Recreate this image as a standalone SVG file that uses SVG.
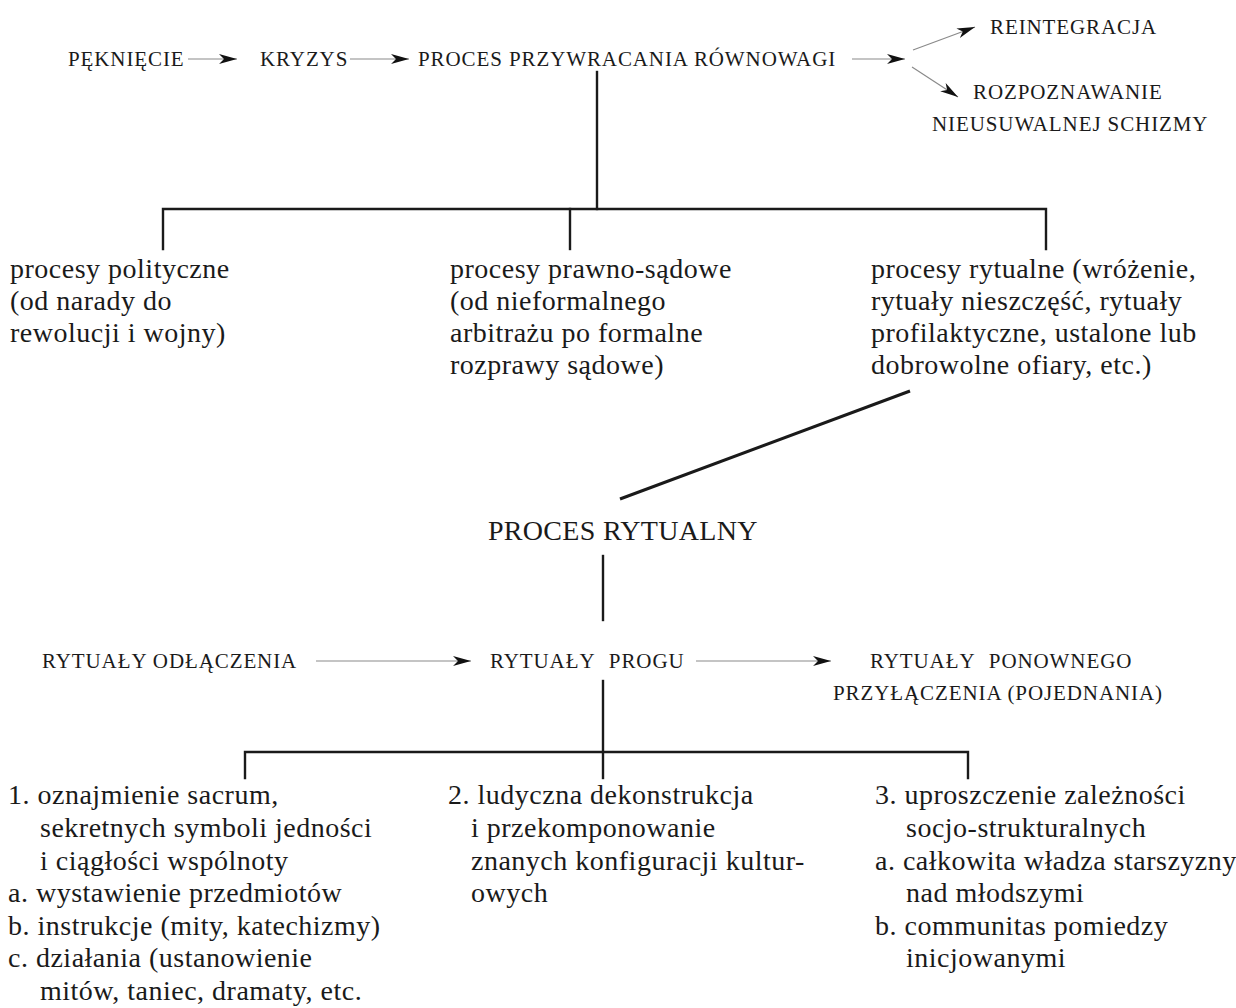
<svg xmlns="http://www.w3.org/2000/svg" width="1236" height="1008" viewBox="0 0 1236 1008">
<defs>
<style>
.cap{font-family:"Liberation Serif","Times New Roman",serif;font-size:21px;letter-spacing:0.9px;fill:#1a1a1a}
.big{font-family:"Liberation Serif","Times New Roman",serif;font-size:28px;letter-spacing:0.3px;fill:#1a1a1a}
.txt{font-family:"Liberation Serif","Times New Roman",serif;font-size:28px;letter-spacing:0.5px;fill:#1a1a1a}
.arr{stroke:#8a8a8a;stroke-width:1.2;fill:none;marker-end:url(#head)}
.tree{stroke:#1a1a1a;stroke-width:2.4;fill:none;stroke-linecap:square}
</style>
<marker id="head" markerUnits="userSpaceOnUse" markerWidth="19" markerHeight="11" refX="18" refY="5.5" orient="auto" viewBox="0 0 19 11">
<path d="M0,0.5 L18,5.5 L0,10.5 L5,5.5 Z" fill="#111"/>
</marker>
</defs>
<rect width="1236" height="1008" fill="#fff"/>

<g id="connectors">
<path class="arr" d="M188,59 L237,59"/>
<path class="arr" d="M350,59 L409,59"/>
<path class="arr" d="M852,59 L905,59"/>
<path class="arr" d="M913,50 L975,27"/>
<path class="arr" d="M912,67 L958,97"/>
<path class="tree" d="M597,72 L597,209"/>
<path class="tree" d="M163,249 L163,209 L1046,209 L1046,249"/>
<path class="tree" d="M570,209 L570,249"/>
<path d="M910,391 L620,499" stroke="#1a1a1a" stroke-width="3" fill="none"/>
<path class="tree" d="M603,556 L603,620"/>
<path class="arr" d="M316,661 L471,661"/>
<path class="arr" d="M696,661 L831,661"/>
<path class="tree" d="M603,681 L603,778"/>
<path class="tree" d="M245,778 L245,752 L968,752 L968,778"/>
</g>

<g id="peknięcie"><text class="cap" x="68" y="66">PĘKNIĘCIE</text></g>
<g id="kryzys"><text class="cap" x="260" y="66">KRYZYS</text></g>
<g id="proces-przywracania"><text class="cap" x="418" y="66">PROCES PRZYWRACANIA RÓWNOWAGI</text></g>
<g id="reintegracja"><text class="cap" x="990" y="34">REINTEGRACJA</text></g>
<g id="rozpoznawanie">
<text class="cap" x="973" y="99">ROZPOZNAWANIE</text>
<text class="cap" x="932" y="131">NIEUSUWALNEJ SCHIZMY</text>
</g>

<g id="procesy-polityczne">
<text class="txt" x="10" y="278">procesy polityczne</text>
<text class="txt" x="10" y="310">(od narady do</text>
<text class="txt" x="10" y="342">rewolucji i wojny)</text>
</g>
<g id="procesy-prawno-sadowe">
<text class="txt" x="450" y="278">procesy prawno-sądowe</text>
<text class="txt" x="450" y="310">(od nieformalnego</text>
<text class="txt" x="450" y="342">arbitrażu po formalne</text>
<text class="txt" x="450" y="374">rozprawy sądowe)</text>
</g>
<g id="procesy-rytualne">
<text class="txt" x="871" y="278">procesy rytualne (wróżenie,</text>
<text class="txt" x="871" y="310">rytuały nieszczęść, rytuały</text>
<text class="txt" x="871" y="342">profilaktyczne, ustalone lub</text>
<text class="txt" x="871" y="374">dobrowolne ofiary, etc.)</text>
</g>

<g id="proces-rytualny"><text class="big" x="488" y="540">PROCES RYTUALNY</text></g>

<g id="rytualy-odlaczenia"><text class="cap" x="42" y="668">RYTUAŁY ODŁĄCZENIA</text></g>
<g id="rytualy-progu"><text class="cap" x="490" y="668">RYTUAŁY <tspan dx="8">PROGU</tspan></text></g>
<g id="rytualy-ponownego">
<text class="cap" x="870" y="668">RYTUAŁY <tspan dx="8">PONOWNEGO</tspan></text>
<text class="cap" x="833" y="700">PRZYŁĄCZENIA (POJEDNANIA)</text>
</g>

<g id="punkt-1">
<text class="txt" x="8" y="804">1. oznajmienie sacrum,</text>
<text class="txt" x="40" y="837">sekretnych symboli jedności</text>
<text class="txt" x="40" y="870">i ciągłości wspólnoty</text>
<text class="txt" x="8" y="902">a. wystawienie przedmiotów</text>
<text class="txt" x="8" y="935">b. instrukcje (mity, katechizmy)</text>
<text class="txt" x="8" y="967">c. działania (ustanowienie</text>
<text class="txt" x="40" y="1000">mitów, taniec, dramaty, etc.</text>
</g>
<g id="punkt-2">
<text class="txt" x="448" y="804">2. ludyczna dekonstrukcja</text>
<text class="txt" x="471" y="837">i przekomponowanie</text>
<text class="txt" x="471" y="870">znanych konfiguracji kultur-</text>
<text class="txt" x="471" y="902">owych</text>
</g>
<g id="punkt-3">
<text class="txt" x="875" y="804">3. uproszczenie zależności</text>
<text class="txt" x="906" y="837">socjo-strukturalnych</text>
<text class="txt" x="875" y="870">a. całkowita władza starszyzny</text>
<text class="txt" x="906" y="902">nad młodszymi</text>
<text class="txt" x="875" y="935">b. communitas pomiedzy</text>
<text class="txt" x="906" y="967">inicjowanymi</text>
</g>
</svg>
